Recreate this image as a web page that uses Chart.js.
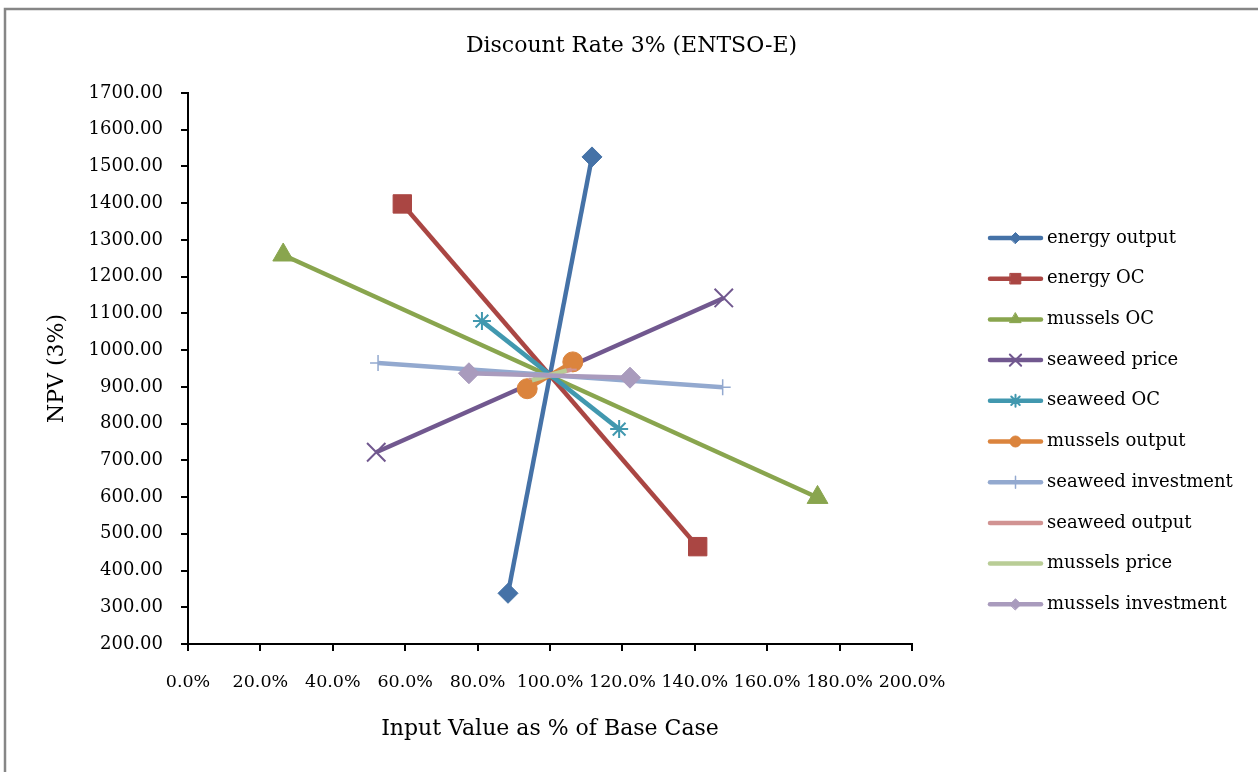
<!DOCTYPE html>
<html>
<head>
<meta charset="utf-8">
<script src="https://cdn.jsdelivr.net/npm/chart.js@4/dist/chart.umd.min.js"></script>
<style>
  html, body { margin: 0; padding: 0; background: #fff; }
  #wrap { width: 1258px; height: 772px; position: relative; }
</style>
</head>
<body>
<div id="wrap"><canvas id="npvChart" width="1258" height="772"></canvas></div>
<script>
// x = input value as % of base case, y = NPV (3%)
const seriesNames = ['energy output', 'energy OC', 'mussels OC', 'seaweed price', 'seaweed OC',
  'mussels output', 'seaweed investment', 'seaweed output', 'mussels price', 'mussels investment'];
const energyOutput = [[88.4, 338], [111.6, 1526]];
const energyOC = [[59.2, 1398], [140.8, 465]];
const musselsOC = [[26.3, 1259], [173.9, 599]];
const seaweedPrice = [[52.0, 722], [148.0, 1142]];
const seaweedOC = [[81.2, 1079], [119.1, 785]];
const musselsOutput = [[93.7, 895], [106.3, 968]];
const seaweedInvestment = [[52.5, 965], [147.7, 899]];
const seaweedOutput = [[95.5, 922], [106.0, 947]];
const musselsPrice = [[95.0, 918], [104.6, 945]];
const musselsInvestment = [[77.6, 937], [122.1, 925]];

const xTicks = [0, 20, 40, 60, 80, 100, 120, 140, 160, 180, 200];
const yTicks = [200, 300, 400, 500, 600, 700, 800, 900, 1000, 1100, 1200, 1300, 1400, 1500, 1600, 1700];
const chartTitle = 'Discount Rate 3% (ENTSO-E)';

const allSeries = [energyOutput, energyOC, musselsOC, seaweedPrice, seaweedOC,
  musselsOutput, seaweedInvestment, seaweedOutput, musselsPrice, musselsInvestment];
const colors = ['#4572A7', '#AA4643', '#89A54E', '#71588F', '#4198AF',
  '#DB843D', '#93A9CF', '#D19392', '#B9CD96', '#A99BBD'];
const markers = [
  { style: 'rectRot', r: 10, lr: 5.5, bw: 1 },
  { style: 'rect', r: 13, lr: 7.5, bw: 1 },
  { style: 'triangle', r: 12, lr: 6.5, bw: 1 },
  { style: 'crossRot', r: 13, lr: 8, bw: 2 },
  { style: 'star', r: 9, lr: 6, bw: 2 },
  { style: 'circle', r: 10, lr: 5.5, bw: 1 },
  { style: 'cross', r: 8, lr: 6, bw: 1.5 },
  { style: 'line', r: 5, lr: 4, bw: 2 },
  { style: 'circle', r: 0, lr: 0, bw: 0 },
  { style: 'rectRot', r: 10.5, lr: 5.5, bw: 1 }
];

const FONT = "'DejaVu Serif', 'Liberation Serif', serif";

const frame = {
  id: 'frame',
  beforeDraw(chart) {
    const ctx = chart.ctx;
    ctx.save();
    ctx.fillStyle = '#fff';
    ctx.fillRect(0, 0, chart.width, chart.height);
    ctx.strokeStyle = '#868686';
    ctx.lineWidth = 2.5;
    ctx.beginPath();
    ctx.moveTo(5, chart.height);
    ctx.lineTo(5, 9);
    ctx.lineTo(chart.width, 9);
    ctx.stroke();
    ctx.fillStyle = '#000';
    ctx.font = '22px ' + FONT;
    ctx.textAlign = 'center';
    ctx.textBaseline = 'middle';
    ctx.fillText(chartTitle, 631.5, 46);
    ctx.restore();
  }
};

const sideLegend = {
  id: 'sideLegend',
  afterDraw(chart) {
    const ctx = chart.ctx;
    ctx.save();
    seriesNames.forEach((name, i) => {
      const y = 238 + i * 40.7;
      ctx.strokeStyle = colors[i];
      ctx.lineWidth = 4.5;
      ctx.lineCap = 'round';
      ctx.beginPath();
      ctx.moveTo(990, y);
      ctx.lineTo(1041, y);
      ctx.stroke();
      const m = markers[i];
      if (m.lr > 0) {
        ctx.fillStyle = colors[i];
        ctx.strokeStyle = colors[i];
        ctx.lineWidth = m.bw;
        Chart.helpers.drawPoint(ctx, { pointStyle: m.style, radius: m.lr, rotation: 0, borderWidth: m.bw }, 1015.5, y);
      }
      ctx.fillStyle = '#000';
      ctx.font = '18px ' + FONT;
      ctx.textBaseline = 'middle';
      ctx.textAlign = 'left';
      ctx.fillText(name, 1047, y);
    });
    ctx.restore();
  }
};

new Chart(document.getElementById('npvChart'), {
  type: 'scatter',
  data: {
    datasets: allSeries.map((pts, i) => ({
      label: seriesNames[i],
      data: pts.map(p => ({ x: p[0], y: p[1] })),
      showLine: true,
      borderColor: colors[i],
      backgroundColor: colors[i],
      borderWidth: 4.5,
      pointStyle: markers[i].style,
      pointRadius: markers[i].r,
      pointHoverRadius: markers[i].r,
      pointBorderWidth: markers[i].bw,
      pointBackgroundColor: colors[i],
      pointBorderColor: colors[i],
      order: 20 - i
    }))
  },
  options: {
    responsive: false,
    animation: false,
    layout: { padding: { left: 30, right: 346, top: 93, bottom: 10 } },
    plugins: {
      legend: { display: false },
      tooltip: { enabled: false },
      title: { display: false }
    },
    scales: {
      x: {
        type: 'linear',
        min: 0,
        max: 200,
        afterBuildTicks: (s) => { s.ticks = xTicks.map(v => ({ value: v })); },
        afterFit: (s) => { s.height = 118; },
        ticks: {
          color: '#000',
          font: { family: FONT, size: 17.5 },
          padding: 21,
          maxRotation: 0,
          autoSkip: false,
          callback: v => v.toFixed(1) + '%'
        },
        grid: { drawOnChartArea: false, drawTicks: true, tickLength: 7, color: '#000', lineWidth: 2 },
        border: { display: true, color: '#000', width: 2 },
        title: {
          display: true,
          text: 'Input Value as % of Base Case',
          color: '#000',
          font: { family: FONT, size: 22 },
          padding: { top: 0, bottom: 20 }
        }
      },
      y: {
        min: 200,
        max: 1700,
        afterBuildTicks: (s) => { s.ticks = yTicks.map(v => ({ value: v })); },
        afterFit: (s) => { s.width = 158; },
        ticks: {
          color: '#000',
          font: { family: FONT, size: 18 },
          padding: 18,
          autoSkip: false,
          callback: v => v.toFixed(2)
        },
        grid: { drawOnChartArea: false, drawTicks: true, tickLength: 7, color: '#000', lineWidth: 2 },
        border: { display: true, color: '#000', width: 2 },
        title: {
          display: true,
          text: 'NPV (3%)',
          color: '#000',
          font: { family: FONT, size: 22 },
          padding: { top: 14, bottom: 0 }
        }
      }
    }
  },
  plugins: [frame, sideLegend]
});
</script>
</body>
</html>
